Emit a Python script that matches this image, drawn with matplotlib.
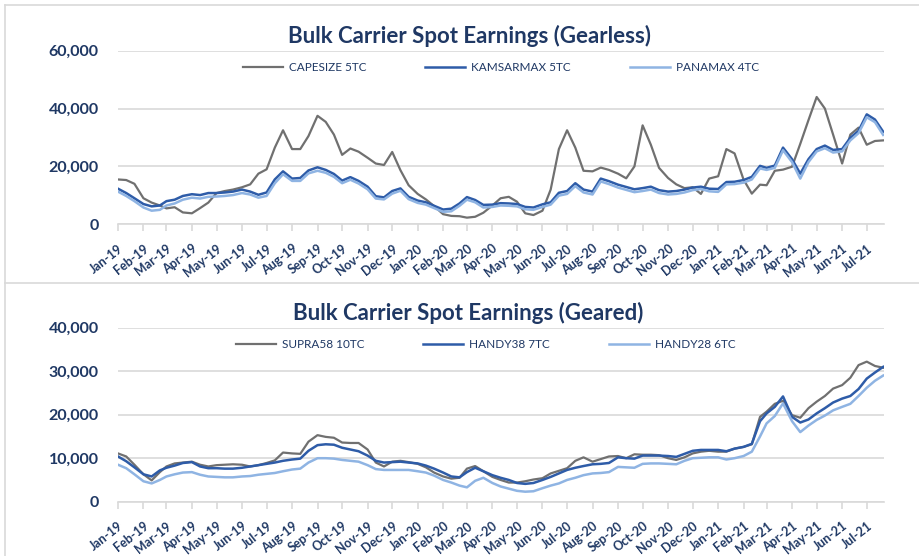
import matplotlib
matplotlib.use("Agg")
import matplotlib.pyplot as plt
import matplotlib.dates as mdates
from matplotlib.lines import Line2D
from matplotlib.ticker import FuncFormatter, MultipleLocator
from datetime import date

plt.rcParams['font.family'] = ['Lato', 'DejaVu Sans']

NAVY = '#1F3864'
GRID = '#D9D9D9'
GREY = '#707070'
DARK_BLUE = '#2E5CA8'
LIGHT_BLUE = '#8FB4E3'

# samples on the 1st, 11th and 21st of each month, Jan-19 .. Jul-21
dates = [date(y, m, d) for y in (2019, 2020, 2021) for m in range(1, 13)
         for d in (1, 11, 21) if (y, m) <= (2021, 7)]

# ---- gearless ($/day) ----
capesize_5tc = [
    # 2019
    15500, 15300, 14000, 9000, 7500, 6500, 5500, 5900, 4100, 3800, 5600, 7500,
    10800, 11500, 12000, 12800, 13800, 17500, 19000, 26500, 32500, 26000, 26000, 30500,
    37500, 35400, 31000, 24000, 26200, 25100, 23000, 21000, 20500, 25000, 18700, 13500,
    # 2020
    10500, 8600, 6300, 3500, 2900, 2800, 2300, 2600, 4000, 6500, 9000, 9500,
    7800, 3800, 3200, 4700, 12000, 26000, 32500, 26500, 18500, 18300, 19600, 18800,
    17500, 15900, 20000, 34200, 27500, 19500, 16000, 13800, 12500, 12800, 10500, 15800,
    # 2021
    16600, 26000, 24500, 15400, 10600, 13700, 13500, 18500, 18900, 19900, 27800, 36000,
    44000, 40000, 31000, 21000, 31000, 33400, 27500, 28800, 29000,
]
kamsarmax_5tc = [
    12300, 10800, 9000, 7000, 6200, 6500, 8000, 8500, 9800, 10400, 10100, 10800,
    10800, 11000, 11300, 12000, 11300, 10200, 11000, 15500, 18300, 15800, 16000, 18600,
    19700, 18800, 17400, 15100, 16300, 15000, 13000, 9700, 9300, 11500, 12400, 9500,
    8200, 7600, 6400, 5100, 5400, 7200, 9400, 8400, 6700, 6800, 7300, 7200,
    7000, 6000, 5800, 6900, 7600, 10900, 11500, 14200, 12000, 11300, 15800, 14900,
    13700, 12900, 12100, 12500, 13000, 11800, 11300, 11500, 12000, 12700, 13000, 12300,
    12200, 14600, 14700, 15300, 16400, 20200, 19500, 20300, 26500, 22500, 17500, 22500,
    26000, 27200, 25700, 26000, 29900, 32300, 38000, 36200, 32000,
]
panamax_4tc = [
    11300, 9800, 8000, 5800, 4700, 5000, 6500, 7200, 8500, 9200, 8900, 9500,
    9600, 9800, 10100, 10800, 10300, 9200, 9800, 14200, 17300, 15000, 15000, 17600,
    18500, 17800, 16400, 14200, 15400, 14100, 12100, 8900, 8600, 10600, 11600, 8700,
    7400, 6800, 5600, 4300, 4500, 6400, 8500, 7600, 5800, 6000, 6500, 6400,
    6200, 5200, 5000, 6000, 6800, 9900, 10500, 13200, 11000, 10300, 14800, 13900,
    12700, 11900, 11100, 11500, 12000, 10800, 10300, 10500, 11000, 11800, 12200, 11400,
    11200, 13800, 13900, 14400, 15500, 19300, 18800, 19500, 25600, 21500, 15800, 21500,
    25200, 26300, 24800, 25200, 29000, 31500, 37000, 35300, 30900,
]

# ---- geared ($/day) ----
supra58_10tc = [
    11100, 10400, 8500, 6300, 4900, 6800, 8100, 8800, 9000, 9200, 8500, 8100,
    8400, 8500, 8600, 8500, 8100, 8400, 8900, 9500, 11300, 11100, 11000, 13800,
    15300, 14900, 14700, 13600, 13500, 13500, 12000, 9000, 8100, 9200, 9400, 9100,
    8700, 7900, 6700, 5800, 5300, 5500, 7600, 8200, 7000, 5700, 5000, 4400,
    4400, 4700, 5100, 5400, 6500, 7100, 7700, 9400, 10200, 9200, 9800, 10400,
    10500, 10000, 10900, 10800, 10800, 10700, 10000, 9600, 10200, 11100, 11500, 11700,
    11500, 11500, 12200, 12600, 13200, 19500, 20700, 22500, 23200, 19900, 19300, 21500,
    23000, 24300, 26000, 26800, 28500, 31400, 32200, 31200, 30800,
]
handy38_7tc = [
    10400, 9300, 7900, 6300, 5800, 7200, 7800, 8300, 8900, 9100, 8100, 7700,
    7700, 7600, 7600, 7800, 8100, 8400, 8700, 9000, 9400, 9700, 9900, 11700,
    13000, 13200, 13100, 12400, 12000, 11600, 10600, 9400, 9000, 9100, 9200, 9000,
    8800, 8300, 7600, 6700, 5800, 5600, 6800, 7800, 7000, 6100, 5500, 5000,
    4300, 4100, 4300, 5000, 5700, 6500, 7300, 7800, 8200, 8600, 8700, 8900,
    10200, 10000, 9900, 10600, 10600, 10600, 10500, 10300, 11000, 11700, 11900, 11900,
    11900, 11600, 12200, 12600, 13300, 18500, 20300, 21800, 24200, 19500, 18200, 18900,
    20300, 21500, 22800, 23700, 24300, 25900, 28300, 29700, 31000,
]
handy28_6tc = [
    8500, 7700, 6300, 4700, 4200, 5000, 5800, 6300, 6700, 6800, 6200, 5800,
    5700, 5600, 5600, 5800, 5900, 6200, 6400, 6600, 7000, 7400, 7600, 9000,
    10000, 10000, 9900, 9600, 9400, 9200, 8400, 7500, 7300, 7300, 7300, 7300,
    7000, 6700, 6000, 5000, 4400, 3700, 3300, 4800, 5500, 4300, 3500, 3000,
    2500, 2300, 2400, 3100, 3700, 4200, 5000, 5500, 6100, 6500, 6600, 6800,
    8000, 7900, 7800, 8700, 8800, 8800, 8700, 8600, 9400, 10000, 10100, 10200,
    10200, 9700, 10000, 10500, 11500, 15000, 18000, 19700, 22600, 18500, 16000, 17500,
    18800, 19800, 21000, 21800, 22500, 24300, 26200, 27800, 29000,
]


def draw_panel(ax, series, labels, ymax, ystep, legend_x):
    colors = [GREY, DARK_BLUE, LIGHT_BLUE]
    widths = [1.6, 1.8, 1.8]
    for values, label, c, lw in zip(series, labels, colors, widths):
        ax.plot(dates, values, color=c, lw=lw, label=label)

    ax.set_xlim(date(2019, 1, 1), date(2021, 7, 22))
    ax.set_ylim(0, ymax)
    ax.yaxis.set_major_locator(MultipleLocator(ystep))
    ax.yaxis.set_major_formatter(FuncFormatter(lambda v, p: f"{v:,.0f}"))
    ax.xaxis.set_major_locator(mdates.MonthLocator())
    ax.xaxis.set_major_formatter(mdates.DateFormatter('%b-%y'))

    ax.grid(axis='y', color=GRID, lw=1.2)
    ax.set_axisbelow(True)
    for s in ('left', 'right', 'top'):
        ax.spines[s].set_visible(False)
    ax.spines['bottom'].set_color(GRID)
    ax.spines['bottom'].set_linewidth(1.2)

    ax.tick_params(axis='y', length=0, pad=14, labelsize=11.5, labelcolor=NAVY)
    ax.tick_params(axis='x', length=5, width=1.2, color=GRID, pad=8,
                   labelsize=9, labelcolor=NAVY)
    for lab in ax.get_yticklabels():
        lab.set_fontweight('bold')
    for lab in ax.get_xticklabels():
        lab.set_fontweight('bold')
        lab.set_rotation(38)
        lab.set_ha('right')
        lab.set_va('top')
        lab.set_rotation_mode('anchor')

    leg = ax.legend(loc='center', bbox_to_anchor=(legend_x, 0.905), ncol=3,
                    frameon=False, fontsize=8.5, handlelength=3.4,
                    handletextpad=0.5, columnspacing=5.0)
    for t in leg.get_texts():
        t.set_color(NAVY)


fig = plt.figure(figsize=(9.19, 5.56), dpi=100)
W, H = 919, 556

# panel frames
for y_px in (5, 283):
    fig.add_artist(Line2D([5 / W, 1], [1 - y_px / H] * 2, color=GRID, lw=1.2))
fig.add_artist(Line2D([5 / W] * 2, [0, 1 - 5 / H], color=GRID, lw=1.2))

ax1 = fig.add_axes([118 / W, 1 - 224.3 / H, 766 / W, 173.6 / H])
draw_panel(ax1, [capesize_5tc, kamsarmax_5tc, panamax_4tc],
           ['CAPESIZE 5TC', 'KAMSARMAX 5TC', 'PANAMAX 4TC'], 60000, 20000, 0.5)

ax2 = fig.add_axes([118 / W, 1 - 501.7 / H, 766 / W, 174 / H])
draw_panel(ax2, [supra58_10tc, handy38_7tc, handy28_6tc],
           ['SUPRA58 10TC', 'HANDY38 7TC', 'HANDY28 6TC'], 40000, 10000, 0.48)

fig.text(470 / W, 1 - 36 / H, 'Bulk Carrier Spot Earnings (Gearless)',
         ha='center', va='center', fontsize=16, fontweight='bold', color=NAVY)
fig.text(468 / W, 1 - 313 / H, 'Bulk Carrier Spot Earnings (Geared)',
         ha='center', va='center', fontsize=16, fontweight='bold', color=NAVY)

fig.savefig('out.png', dpi=100, facecolor='white')
